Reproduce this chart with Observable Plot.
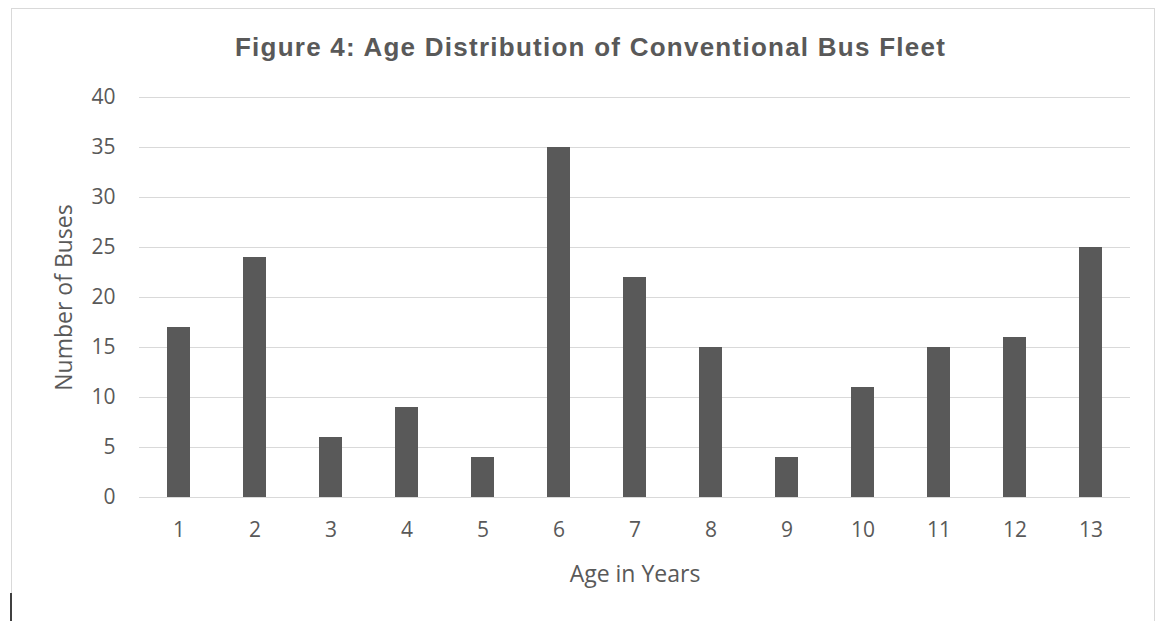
<!DOCTYPE html>
<html>
<head>
<meta charset="utf-8">
<script src="https://cdn.jsdelivr.net/npm/d3@7"></script>
<script src="https://cdn.jsdelivr.net/npm/@observablehq/plot@0.6"></script>
<style>
  html, body { margin: 0; padding: 0; background: #fff; overflow: hidden; }
  #frame { position: absolute; left: 11px; top: 8px; width: 1144px; height: 640px; border: 1px solid #d9d9d9; border-bottom: none; box-sizing: border-box; }
  #cursor { position: absolute; left: 10px; top: 593px; width: 2px; height: 28px; background: #404040; }
  #title { position: absolute; left: 12px; top: 0; width: 1157px; height: 70px; text-align: center; font-family: "Liberation Sans", Arial, sans-serif; font-weight: bold; font-size: 26px; letter-spacing: 1.25px; color: #595959; line-height: 94px; }
  #chart { position: absolute; left: 0; top: 70px; }
</style>
</head>
<body>
<div id="frame"></div>
<div id="cursor"></div>
<div id="title">Figure 4: Age Distribution of Conventional Bus Fleet</div>
<div id="chart"></div>
<script>
const ages = [1, 2, 3, 4, 5, 6, 7, 8, 9, 10, 11, 12, 13];
const buses = [17, 24, 6, 9, 4, 35, 22, 15, 4, 11, 15, 16, 25];
const yTicks = [0, 5, 10, 15, 20, 25, 30, 35, 40];

const data = ages.map((a, i) => ({age: a, count: buses[i]}));
const font = '"Open Sans", "Noto Sans", sans-serif';

const chart = Plot.plot({
  width: 1157,
  height: 551,
  marginLeft: 139,
  marginRight: 27,
  marginTop: 27,
  marginBottom: 124,
  style: {fontFamily: font, color: "#595959", background: "transparent"},
  x: {domain: ages, paddingInner: 0.7, paddingOuter: 0.35},
  y: {domain: [0, 40]},
  marks: [
    Plot.gridY(yTicks, {stroke: "#d9d9d9", strokeOpacity: 1, strokeWidth: 1.2}),
    Plot.barY(data, {x: "age", y: "count", fill: "#595959"}),
    Plot.axisY(yTicks, {tickSize: 0, tickPadding: 24, fontSize: 21, fill: "#595959", label: null}),
    Plot.axisX({tickSize: 0, tickPadding: 25, fontSize: 21, fill: "#595959", label: null}),
    Plot.axisY({ticks: [], tickSize: 0, fontSize: 23, fill: "#595959",
      label: "Number of Buses", labelAnchor: "center", labelArrow: "none", labelOffset: 84}),
    Plot.axisX({ticks: [], tickSize: 0, fontSize: 23, fill: "#595959",
      label: "Age in Years", labelAnchor: "center", labelArrow: "none", labelOffset: 84})
  ]
});
document.getElementById("chart").appendChild(chart);
</script>
</body>
</html>
